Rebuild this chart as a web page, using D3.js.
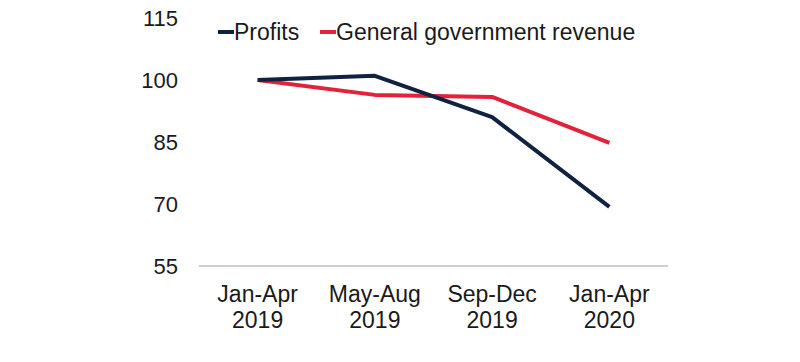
<!DOCTYPE html>
<html>
<head>
<meta charset="utf-8">
<script src="https://cdn.jsdelivr.net/npm/d3@7"></script>
<style>
  body { margin: 0; background: #fff; }
  text { font-family: "Liberation Sans", Arial, sans-serif; fill: #1a1a1a; }
</style>
</head>
<body>
<svg id="chart" width="800" height="362"></svg>
<script>
const periods = ["Jan-Apr 2019", "May-Aug 2019", "Sep-Dec 2019", "Jan-Apr 2020"];
const profits = [100, 101, 91, 69.3];
const revenue = [100, 96.4, 95.9, 84.8];
const yTicks = [55, 70, 85, 100, 115];
const seriesNames = ["Profits", "General government revenue"];
const colors = ["#0f2341", "#e3213b"];

const svg = d3.select("#chart");
const x = d3.scaleBand().domain(periods).range([199, 668]);
const y = d3.scaleLinear().domain([55, 115]).range([266, 18]);

// y labels, no axis line
svg.selectAll(".ylab")
  .data(yTicks)
  .enter().append("text")
  .attr("class", "ylab")
  .attr("x", 178)
  .attr("y", d => y(d))
  .attr("dy", "0.35em")
  .attr("text-anchor", "end")
  .style("font-size", "22px")
  .text(d => d);

// baseline
svg.append("line")
  .attr("x1", x.range()[0]).attr("x2", x.range()[1])
  .attr("y1", y(55)).attr("y2", y(55))
  .attr("stroke", "#bfbfbf").attr("stroke-width", 1.5);

// x labels on two lines
const xl = svg.selectAll(".xlab")
  .data(periods)
  .enter().append("text")
  .attr("class", "xlab")
  .attr("text-anchor", "middle")
  .style("font-size", "23px");
xl.append("tspan")
  .attr("x", d => x(d) + x.bandwidth() / 2)
  .attr("y", 302)
  .text(d => d.split(" ")[0]);
xl.append("tspan")
  .attr("x", d => x(d) + x.bandwidth() / 2)
  .attr("y", 328)
  .text(d => d.split(" ")[1]);

const line = d3.line()
  .x((d, i) => x(periods[i]) + x.bandwidth() / 2)
  .y(d => y(d));

[revenue, profits].forEach((s, k) => {
  svg.append("path")
    .datum(s)
    .attr("fill", "none")
    .attr("stroke", k === 0 ? colors[1] : colors[0])
    .attr("stroke-width", 4)
    .attr("stroke-linejoin", "round")
    .attr("d", line);
});

// legend
const legendX = [218, 320];
seriesNames.forEach((n, i) => {
  svg.append("line")
    .attr("x1", legendX[i]).attr("x2", legendX[i] + 16)
    .attr("y1", 32).attr("y2", 32)
    .attr("stroke", colors[i]).attr("stroke-width", 4);
  svg.append("text")
    .attr("x", legendX[i] + 16)
    .attr("y", 32)
    .attr("dy", "0.35em")
    .style("font-size", "23px")
    .text(n);
});
</script>
</body>
</html>
